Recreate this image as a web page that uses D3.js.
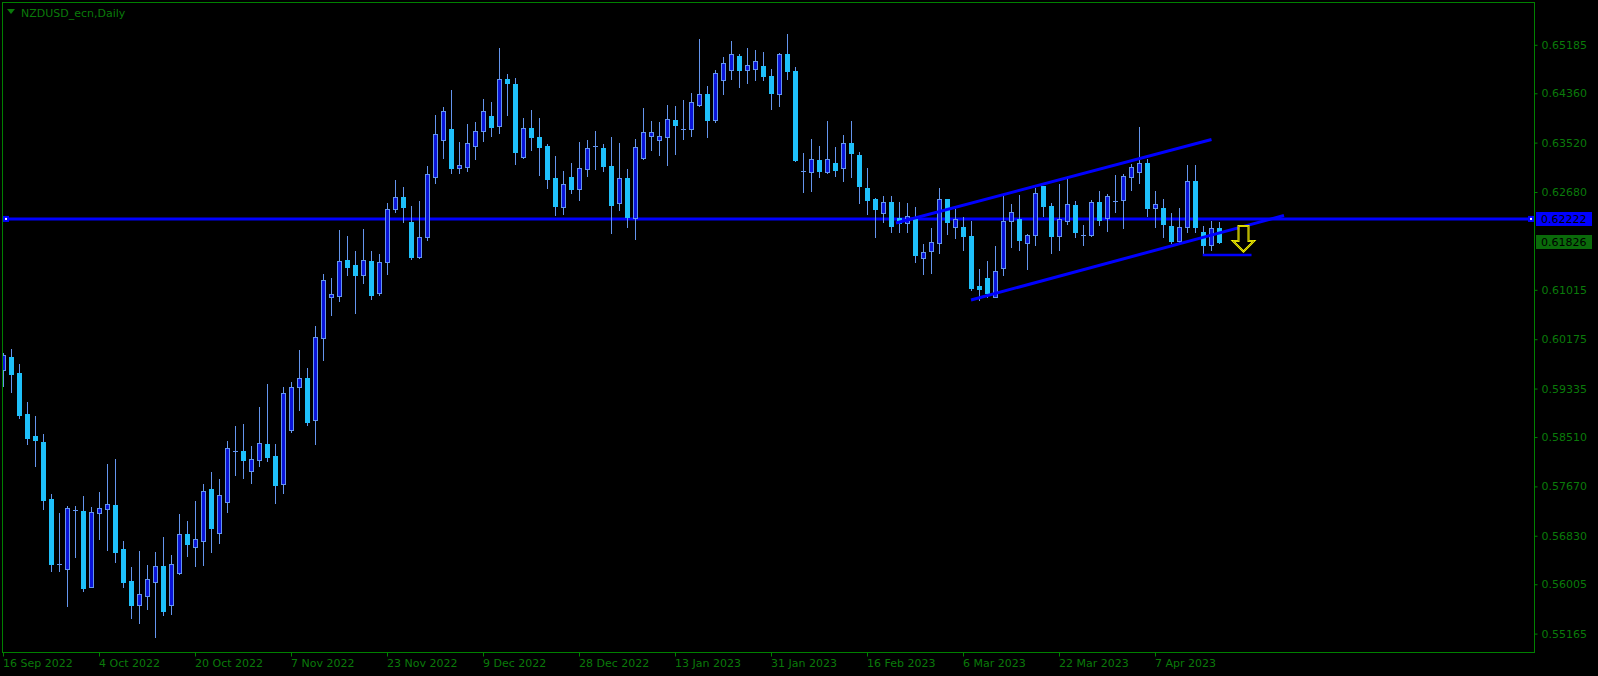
<!DOCTYPE html>
<html><head><meta charset="utf-8">
<script src="https://cdn.jsdelivr.net/npm/d3@7"></script>
<style>html,body{margin:0;padding:0;background:#000;overflow:hidden}</style>
</head><body>
<script>
// ---- data (NZDUSD daily, bar index 0 = 16 Sep 2022) ----
const opens = [0.59646,0.59867,0.59595,0.58897,0.58522,0.58420,0.57450,0.56352,0.56269,0.57265,
0.57246,0.55963,0.57212,0.57280,0.57348,0.56599,0.56055,0.55657,0.55810,0.56048,
0.56310,0.55657,0.56201,0.56860,0.56644,0.56746,0.57621,0.56882,0.57410,0.58279,
0.58267,0.57937,0.58124,0.58386,0.58182,0.57716,0.58635,0.59367,0.59510,0.58805,
0.60200,0.60888,0.60915,0.61518,0.61433,0.61273,0.61506,0.60966,0.61494,0.62396,
0.62590,0.62169,0.61579,0.61919,0.62930,0.63560,0.63747,0.63083,0.63100,0.63458,
0.63713,0.63968,0.63798,0.64598,0.64513,0.63270,0.63764,0.63611,0.63458,0.62913,
0.62420,0.62930,0.62736,0.63077,0.63465,0.63424,0.63117,0.62498,0.62913,0.62237,
0.63264,0.63628,0.63560,0.63611,0.63900,0.63759,0.63757,0.64155,0.64343,0.63910,
0.64591,0.64761,0.64989,0.64761,0.64778,0.64819,0.64649,0.64353,0.65023,0.64734,
0.63044,0.63025,0.63219,0.63025,0.63168,0.63094,0.63509,0.63305,0.62743,0.62561,
0.62328,0.62505,0.62237,0.62147,0.62215,0.61552,0.61671,0.61807,0.62556,0.62079,
0.62079,0.61926,0.61075,0.61211,0.60898,0.61392,0.62181,0.62215,0.61817,0.61943,
0.62782,0.62437,0.61926,0.62186,0.62454,0.61955,0.61943,0.62505,0.62232,0.62534,
0.62539,0.62940,0.63025,0.63168,0.62403,0.62403,0.62096,0.61846,0.62079,0.62862,
0.61994,0.61783,0.62062];
const highs = [0.59935,0.60008,0.59753,0.59106,0.58863,0.58562,0.57541,0.57217,0.57331,0.57331,
0.57507,0.57319,0.57575,0.58051,0.58136,0.56741,0.56298,0.56571,0.56332,0.56554,
0.56809,0.56502,0.57200,0.57076,0.57421,0.57711,0.57915,0.57791,0.58443,0.58698,
0.58732,0.58357,0.59021,0.59413,0.58391,0.59361,0.59447,0.59991,0.59685,0.60400,
0.61285,0.61216,0.62033,0.61931,0.61676,0.62050,0.61676,0.61625,0.62493,0.62884,
0.62765,0.62442,0.62527,0.63122,0.63990,0.64127,0.64416,0.63531,0.63837,0.63871,
0.64263,0.64212,0.65131,0.64688,0.64620,0.63939,0.64075,0.63939,0.63497,0.63293,
0.63037,0.63174,0.63531,0.63565,0.63718,0.63497,0.63616,0.63514,0.63071,0.63582,
0.64109,0.63888,0.63871,0.64160,0.64144,0.64246,0.64365,0.65284,0.64484,0.64751,
0.64977,0.65250,0.65028,0.65131,0.65096,0.65063,0.64773,0.65045,0.65369,0.64807,
0.63344,0.63582,0.63463,0.63888,0.63446,0.63650,0.63888,0.63361,0.63088,0.62578,
0.62612,0.62612,0.62510,0.62493,0.62425,0.61790,0.62067,0.62743,0.62561,0.62391,
0.62249,0.62181,0.61370,0.61501,0.61756,0.62605,0.62471,0.62622,0.61960,0.62743,
0.62782,0.62488,0.62816,0.62899,0.62522,0.62118,0.62544,0.62697,0.62641,0.62969,
0.62981,0.63151,0.63786,0.63236,0.62692,0.62556,0.62317,0.62403,0.63134,0.63134,
0.62096,0.62181,0.62164];
const lows = [0.59379,0.59276,0.58834,0.58397,0.58022,0.57290,0.56235,0.56235,0.55635,0.56468,
0.55895,0.55950,0.56775,0.56588,0.56388,0.55963,0.55430,0.55350,0.55583,0.55112,
0.55481,0.55498,0.56174,0.56485,0.56315,0.56332,0.56559,0.56712,0.57234,0.57864,
0.57813,0.57728,0.58017,0.58102,0.57387,0.57560,0.58596,0.58970,0.58715,0.58391,
0.59821,0.60587,0.60830,0.61267,0.60621,0.61131,0.60864,0.60932,0.61285,0.62340,
0.62175,0.61540,0.61562,0.61863,0.62838,0.63264,0.63008,0.63008,0.63042,0.63247,
0.63553,0.63638,0.63689,0.63995,0.63162,0.63255,0.63400,0.62974,0.62753,0.62294,
0.62311,0.62668,0.62549,0.62957,0.63077,0.63042,0.61987,0.62379,0.62089,0.61885,
0.63247,0.63400,0.63315,0.63145,0.63332,0.63587,0.63638,0.64138,0.63621,0.63876,
0.64353,0.64608,0.64472,0.64540,0.64591,0.64591,0.64098,0.64149,0.64608,0.63213,
0.62685,0.62702,0.62940,0.63008,0.62957,0.62872,0.62940,0.62498,0.62306,0.61914,
0.62169,0.62004,0.62004,0.62004,0.61494,0.61290,0.61307,0.61647,0.61970,0.61902,
0.61698,0.61017,0.60842,0.60898,0.60890,0.61267,0.61749,0.61698,0.61375,0.61783,
0.62277,0.61647,0.61698,0.62141,0.61909,0.61783,0.61935,0.62123,0.62021,0.62340,
0.62062,0.62714,0.62838,0.62277,0.62079,0.61909,0.61807,0.61807,0.61994,0.61994,
0.61630,0.61698,0.61809];
const closes = [0.59901,0.59588,0.58890,0.58499,0.58454,0.57433,0.56354,0.56349,0.57297,0.57261,
0.55946,0.57229,0.57297,0.57365,0.56559,0.56048,0.55657,0.55834,0.56089,0.56310,
0.55555,0.56344,0.56855,0.56695,0.56770,0.57587,0.56967,0.57518,0.58318,0.58275,
0.58124,0.58131,0.58403,0.58175,0.57699,0.59254,0.59356,0.59510,0.58771,0.60207,
0.61177,0.60939,0.61501,0.61409,0.61273,0.61518,0.60932,0.61484,0.62386,0.62590,
0.62430,0.61579,0.61909,0.62981,0.63662,0.64053,0.63083,0.63134,0.63509,0.63713,
0.64053,0.63781,0.64598,0.64530,0.63366,0.63764,0.63621,0.63451,0.62906,0.62447,
0.62811,0.62736,0.63083,0.63424,0.63461,0.63128,0.62464,0.62913,0.62260,0.63441,
0.63696,0.63696,0.63628,0.63917,0.63815,0.63755,0.64206,0.64343,0.63910,0.64700,
0.64870,0.65023,0.64761,0.64836,0.64904,0.64659,0.64370,0.65023,0.64734,0.63230,
0.63040,0.63236,0.63042,0.63236,0.63059,0.63509,0.63349,0.62787,0.62549,0.62396,
0.62505,0.62106,0.62152,0.62266,0.61613,0.61654,0.61824,0.62556,0.62164,0.62220,
0.61936,0.61051,0.61034,0.60966,0.61330,0.62181,0.62334,0.61868,0.61943,0.62658,
0.62437,0.61926,0.62215,0.62471,0.61994,0.61951,0.62505,0.62198,0.62607,0.62530,
0.62947,0.63100,0.63168,0.62403,0.62471,0.62130,0.61841,0.62079,0.62862,0.62079,
0.61783,0.62062,0.61826];

const xTickBars   = [0,12,24,36,48,60,72,84,96,108,120,132,144];
const xTickLabels = ["16 Sep 2022","4 Oct 2022","20 Oct 2022","7 Nov 2022","23 Nov 2022","9 Dec 2022",
  "28 Dec 2022","13 Jan 2023","31 Jan 2023","16 Feb 2023","6 Mar 2023","22 Mar 2023","7 Apr 2023"];
const yTickValues = [0.65185,0.64360,0.63520,0.62680,0.61015,0.60175,0.59335,0.58510,0.57670,0.56830,0.56005,0.55165];

const hLinePrice = 0.62222;     // horizontal level
const lastPrice  = 0.61826;     // current bid
const upperChannel = [[111.56,0.62152],[151.0,0.63573]];
const lowerChannel = [[120.94,0.60842],[160.06,0.62280]];
const targetLine   = [[149.9,0.61608],[156.0,0.61608]];
const arrowAnchor  = [155,0.62101];
const title = "NZDUSD_ecn,Daily";

// ---- layout ----
const W = 1598, H = 676;
const L = 2.5, R = 1534.5, T = 2.5, B = 652.5;
const GREEN = "#008000", TXT = "#0a7a0a";
const WICK = "#6495ED", BULL = "#0A14D8", BEAR = "#1EC0FA";

const svg = d3.select("body").append("svg").attr("width", W).attr("height", H)
  .style("display","block").style("background","#000")
  .attr("font-family","DejaVu Sans, sans-serif");

const x = d3.scaleLinear().domain([0, 191.3125]).range([3.5, 1534]);
const y = d3.scaleLinear().domain([0.55165, 0.65185]).range([633.6, 44.8]);

const clip = svg.append("clipPath").attr("id","plot").append("rect")
  .attr("x", L+0.5).attr("y", T+0.5).attr("width", R-L-1).attr("height", B-T-1);
const plot = svg.append("g").attr("clip-path","url(#plot)");

// horizontal level line
plot.append("line").attr("x1", L).attr("x2", R).attr("y1", y(hLinePrice)).attr("y2", y(hLinePrice))
  .attr("stroke","#0000FF").attr("stroke-width",3);
[6, 1531].forEach(px => {
  plot.append("rect").attr("x", px-3).attr("y", y(hLinePrice)-3).attr("width",6).attr("height",6)
    .attr("fill","#0000FF");
  plot.append("rect").attr("x", px-1).attr("y", y(hLinePrice)-1).attr("width",2).attr("height",2)
    .attr("fill","#ffffff");
});

// candles
const bars = d3.range(opens.length).map(i => ({i, o:opens[i], h:highs[i], l:lows[i], c:closes[i]}));
const g = plot.append("g");
bars.forEach(d => {
  const cx = x(d.i);
  g.append("line").attr("x1",cx).attr("x2",cx)
    .attr("y1", Math.round(y(d.h))).attr("y2", Math.round(y(d.l)) + 1)
    .attr("stroke", WICK).attr("stroke-width",1);
  const yo = Math.round(y(d.o)), yc = Math.round(y(d.c));
  const top = Math.min(yo,yc), bot = Math.max(yo,yc);
  if (bot - top < 1) {
    g.append("line").attr("x1",cx-2.5).attr("x2",cx+2.5).attr("y1",top+0.5).attr("y2",top+0.5)
      .attr("stroke",WICK).attr("stroke-width",1);
  } else {
    const up = d.c > d.o;
    g.append("rect").attr("x", cx-2).attr("y", top+0.5).attr("width",4).attr("height", bot-top)
      .attr("fill", up ? BULL : BEAR).attr("stroke", up ? WICK : BEAR).attr("stroke-width",1);
  }
});

// channel lines
const line = d3.line().x(d => x(d[0])).y(d => y(d[1]));
[upperChannel, lowerChannel].forEach(c => plot.append("path").attr("d", line(c))
  .attr("stroke","#0000FF").attr("stroke-width",3).attr("fill","none"));
plot.append("path").attr("d", line(targetLine)).attr("stroke","#0000FF").attr("stroke-width",2.5).attr("fill","none");

// yellow down arrow
{
  const ax = x(arrowAnchor[0]), ay = y(arrowAnchor[1]);
  const p = [[-5,0],[5,0],[5,15],[10.5,15],[0,25.5],[-10.5,15],[-5,15]]
    .map(q => [ax+q[0], ay+q[1]]);
  plot.append("path").attr("d", "M" + p.join("L") + "Z")
    .attr("fill","#000").attr("stroke","#FFFF00").attr("stroke-width",2).attr("stroke-linejoin","miter");
  plot.append("path").attr("d", "M" + p.join("L") + "Z")
    .attr("fill","none").attr("stroke","#8a7a00").attr("stroke-width",0.6)
    .attr("transform","translate(0,0)");
}

// frame
svg.append("rect").attr("x",L).attr("y",T).attr("width",R-L).attr("height",B-T)
  .attr("fill","none").attr("stroke",GREEN).attr("stroke-width",1);

// right axis
const yAxis = svg.append("g").attr("transform",`translate(${R},0)`)
  .call(d3.axisRight(y).tickValues(yTickValues).tickSize(3).tickPadding(4).tickFormat(d3.format(".5f")));
yAxis.select(".domain").remove();
yAxis.selectAll(".tick line").attr("stroke",GREEN);
yAxis.selectAll(".tick text").attr("fill",TXT).attr("font-size",11).attr("font-family","DejaVu Sans, sans-serif");

// price labels
function priceBox(price, fill){
  const yy = Math.round(y(price));
  svg.append("rect").attr("x",1536).attr("y",yy-7).attr("width",56).attr("height",14).attr("fill",fill);
  svg.append("text").attr("x",1541).attr("y",yy).attr("dy","0.35em").attr("font-size",11)
    .attr("fill","#000").text(d3.format(".5f")(price));
}
priceBox(hLinePrice, "#0000FF");
priceBox(lastPrice, "#0a6a0a");

// bottom axis
const xAxis = svg.append("g").attr("transform",`translate(0,${B})`)
  .call(d3.axisBottom(x).tickValues(xTickBars).tickSize(4).tickFormat((d,k) => xTickLabels[k]));
xAxis.select(".domain").remove();
xAxis.selectAll(".tick line").attr("stroke",GREEN).attr("transform","translate(-0.5,0)");
xAxis.selectAll(".tick text").attr("fill",TXT).attr("font-size",11)
  .attr("font-family","DejaVu Sans, sans-serif").attr("text-anchor","start").attr("x",-1).attr("y",7);

// title
svg.append("path").attr("d","M7,9 L15,9 L11,14 Z").attr("fill",TXT);
svg.append("text").attr("x",21).attr("y",17).attr("font-size",11).attr("fill",TXT).text(title);
</script>
</body></html>
